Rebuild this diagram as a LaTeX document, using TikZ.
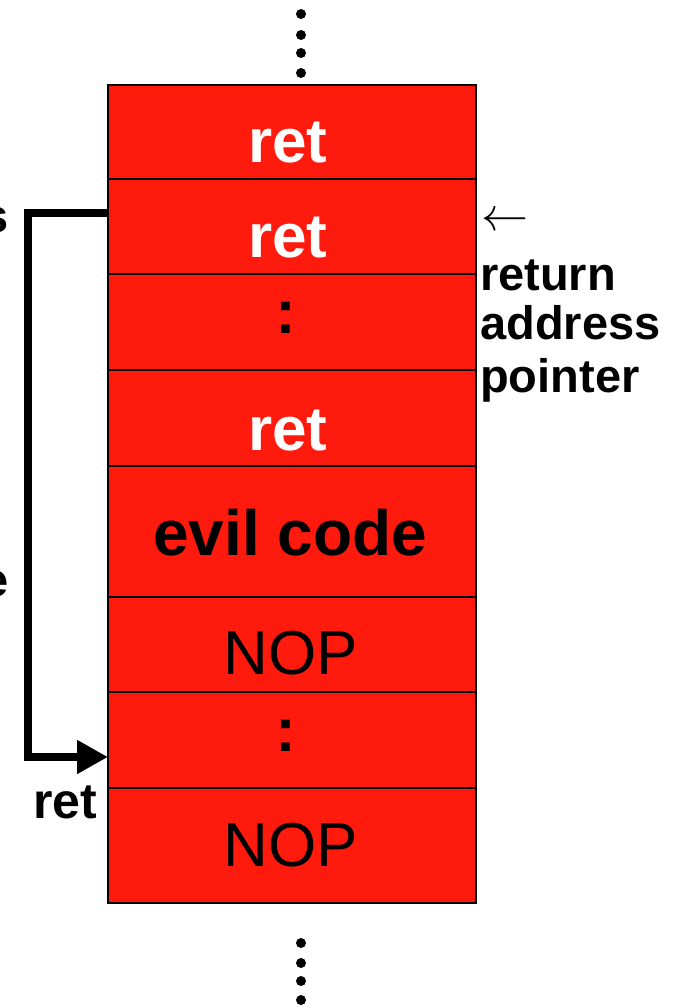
\documentclass[tikz,border=0pt]{standalone}
\usepackage{fontspec}
\setmainfont{Liberation Sans}
\usetikzlibrary{arrows.meta}
\definecolor{stackred}{RGB}{255,26,14}

\begin{document}
\begin{tikzpicture}[x=1pt,y=-1pt,
  cell/.style={draw=black, line width=1.8pt, fill=stackred,
    minimum width=368pt, inner sep=0pt, outer sep=0pt},
  cellbold/.style={font=\fontsize{62}{62}\selectfont\bfseries, anchor=base, inner sep=0pt},
  cellplain/.style={font=\fontsize{62}{62}\selectfont, anchor=base, inner sep=0pt},
  sidebold/.style={font=\fontsize{47}{47}\selectfont\bfseries, inner sep=0pt},
  jump/.style={line width=8pt, line join=miter,
    -{Triangle[length=31pt,width=32pt]}},
  dot/.style={fill=black}
]
\useasboundingbox (0,0) rectangle (681,1007);

% stack cells, top to bottom
\node[cell, minimum height=94pt]  (c1) at (292,132)   {};
\node[cell, minimum height=95pt]  (c2) at (292,226.5) {};
\node[cell, minimum height=96pt]  (c3) at (292,322)   {};
\node[cell, minimum height=96pt]  (c4) at (292,418)   {};
\node[cell, minimum height=131pt] (c5) at (292,531.5) {};
\node[cell, minimum height=95pt]  (c6) at (292,644.5) {};
\node[cell, minimum height=96pt]  (c7) at (292,740)   {};
\node[cell, minimum height=115pt] (c8) at (292,845.5) {};

% cell contents
\node[cellbold, text=white] (t1) at (288,162) {ret};
\node[cellbold, text=white] (t2) at (288,257) {ret};
\node[cellbold]             (t3) at (286,333) {:};
\node[cellbold, text=white] (t4) at (288,450) {ret};
\node[cellbold, font=\fontsize{64}{64}\selectfont\bfseries] (t5) at (290,555) {evil code};
\node[cellplain]            (t6) at (291,674) {NOP};
\node[cellbold]             (t7) at (286,751) {:};
\node[cellplain]            (t8) at (291,866) {NOP};

% return address pointer label
\node[inner sep=0pt, anchor=west] (arr) at (481,222) {\scalebox{4.7}{$\leftarrow$}};
\node[sidebold, anchor=base west] (r1) at (480,290) {return};
\node[sidebold, anchor=base west] (r2) at (480,339) {address};
\node[sidebold, anchor=base west] (r3) at (480,392) {pointer};

% labels on the left edge
\node[sidebold, anchor=base east] (ls) at (9,232) {s};
\node[sidebold, anchor=base east] (le) at (9,596) {e};
\node[font=\fontsize{50}{50}\selectfont\bfseries, inner sep=0pt, anchor=base] (lret) at (65,818) {ret};

% jump from the return address to the NOP sled
\draw[jump] ([yshift=13.5pt]c2.west) -- ++(-80,0) |- ([yshift=-17pt]c7.west);

% continuation dots above and below the stack
\foreach \y in {14,35,53,73} \fill[dot] (301,\y) circle (5);
\foreach \y in {943,963,981,1000} \fill[dot] (301,\y) circle (5);
\end{tikzpicture}
\end{document}
